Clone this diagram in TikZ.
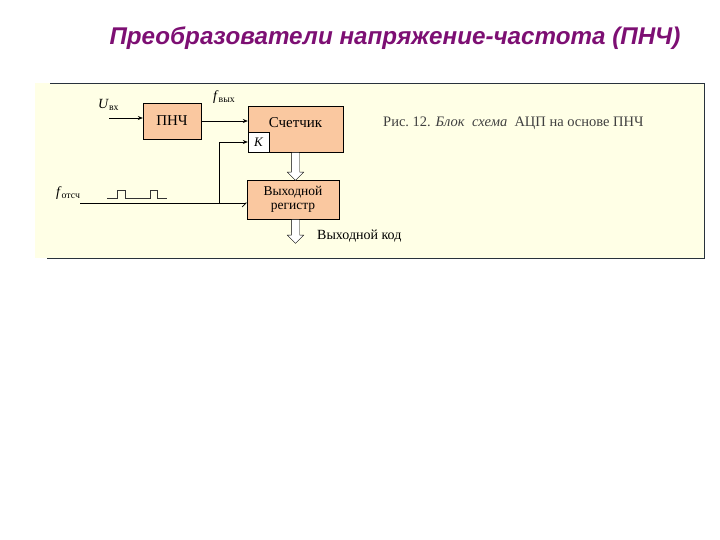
\documentclass[tikz,border=0pt]{standalone}
\usepackage{fontspec}
\setmainfont{Liberation Serif}
\newfontfamily\titlefont{Liberation Sans}
\usepackage{xcolor}
\usetikzlibrary{
    positioning,
    arrows.meta,
    shapes.arrows,
    calc,
}
\definecolor{peach}{RGB}{250,200,160}
\definecolor{paper}{RGB}{255,255,230}
\definecolor{framegray}{RGB}{40,50,60}
\definecolor{titlepurple}{RGB}{125,15,115}
\tikzset{
    % Block styles
    block/.style={rectangle, draw, fill=peach, inner sep=2pt, align=center,
                  font=\fontsize{15}{16}\selectfont},
    small block/.style={block, fill=white, font=\fontsize{13}{14}\selectfont\itshape},
    bus/.style={single arrow, draw, fill=white, inner sep=4pt,
                single arrow head extend=4pt, single arrow head indent=0pt,
                shape border rotate=270},
    % Arrow styles
    arrow/.style={-{Stealth[length=5pt, width=4pt]}, semithick},
    clock arrow/.style={-{Straight Barb[harpoon, swap, length=4pt, width=8pt]}, semithick},
    % Annotation styles
    annot/.style={font=\fontsize{14}{15}\selectfont, inner sep=1pt},
}

\begin{document}
\begin{tikzpicture}[
    x=1pt, y=-1pt,
    title/.style={font=\titlefont\fontsize{24.2}{28}\selectfont\bfseries\itshape, text=titlepurple},
    pulse/.style={thin, black!80},
]
    \useasboundingbox (0,0) rectangle (720,540);

    % Title
    \node[title] (title) at (395,38) {Преобразователи напряжение-частота (ПНЧ)};

    % Panel
    \fill[paper] (35,83) rectangle (704,258);
    \draw[framegray, semithick] (50,83) -- (704,83) -- (704,258) -- (47,258);

    % Blocks
    \node[block, minimum width=58pt, minimum height=36pt] (pnch) at (172,121) {ПНЧ};
    \node[block, minimum width=95pt, minimum height=46pt, text depth=12pt] (cnt) at (295.5,129) {Счетчик};
    \node[small block, minimum width=21pt, minimum height=20pt, anchor=south west] (kin) at (cnt.south west) {K};
    \node[block, minimum width=92pt, minimum height=39pt, font=\fontsize{13.5}{14.5}\selectfont] (reg) at (293,199.5) {Выходной\\регистр};

    % Buses
    \node[bus, minimum height=28pt, anchor=tail] (bus1) at (cnt.south) {};
    \node[bus, minimum height=24pt, anchor=tail] (bus2) at (bus1.tail |- reg.south) {};
    \node[annot, anchor=west] (outcode) at (316,236) {Выходной код};

    % Inputs
    \coordinate (uin) at (109,118);
    \coordinate (fin) at (80,203);
    \coordinate (tap) at (219,203);
    \node[annot, anchor=south west] (ulabel) at (97,112) {\textit{U}\textsubscript{вх}};
    \node[annot, anchor=south west] (fout) at (212,105) {\textit{f}\textsubscript{вых}};
    \node[annot, anchor=south west] (fref) at (55,201) {\textit{f}\textsubscript{отсч}};

    \draw[arrow] (uin) -- (uin -| pnch.west);
    \draw[arrow] (pnch.east) -- (pnch.east -| cnt.west);
    \draw[clock arrow] (fin) -- (fin -| reg.west);
    \draw[arrow] (tap) |- (kin.west);

    % Reference pulses
    \coordinate (wave) at (107,198);
    \draw[pulse] (wave) -- ++(10,0) -- ++(0,-8) -- ++(8,0) -- ++(0,8)
        -- ++(25,0) -- ++(0,-8) -- ++(7,0) -- ++(0,8) -- ++(10,0);

    % Caption
    \node[annot, anchor=west, text=black!75, font=\fontsize{14.5}{15}\selectfont] (caption) at (382,123)
        {Рис.~12. \textit{Блок\ \ схема}\ \ АЦП на основе ПНЧ};
\end{tikzpicture}
\end{document}
